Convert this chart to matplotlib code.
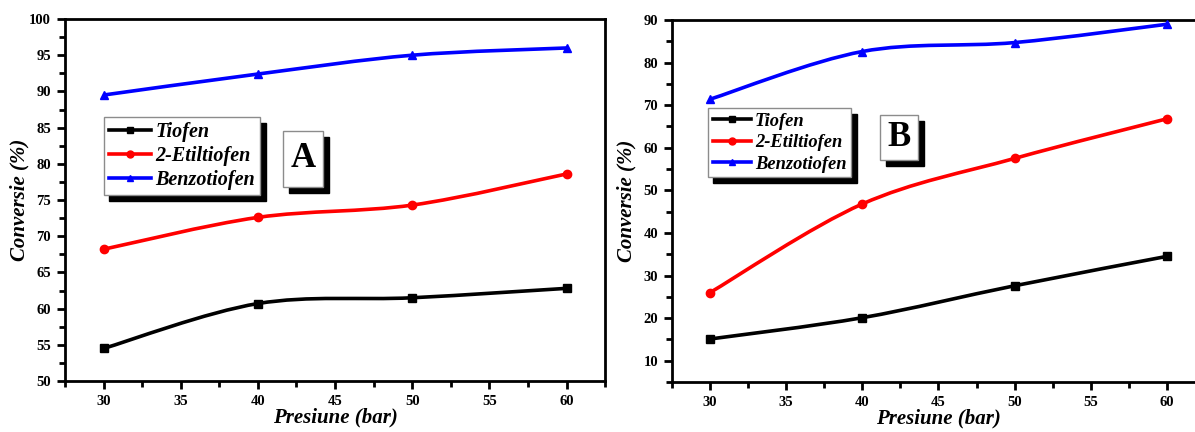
import numpy as np
import matplotlib.pyplot as plt
from matplotlib.path import Path
from matplotlib.patches import PathPatch, Rectangle
from matplotlib.ticker import MultipleLocator
import matplotlib.transforms as mtransforms

plt.rcParams['font.family'] = ['Liberation Serif', 'DejaVu Serif']
plt.rcParams['font.weight'] = 'bold'

# Date
presiune = [30, 40, 50, 60]
serii = ['Tiofen', '2-Etiltiofen', 'Benzotiofen']

tiofen_A = [54.5, 60.7, 61.5, 62.8]
etil_A = [68.2, 72.6, 74.3, 78.6]
benzo_A = [89.5, 92.4, 95.0, 96.0]

tiofen_B = [15.1, 20.1, 27.6, 34.5]
etil_B = [26.0, 46.8, 57.5, 66.8]
benzo_B = [71.4, 82.6, 84.7, 89.0]

culori = ['black', 'red', 'blue']
markere = ['s', 'o', '^']


def curba(ax, x, y, color):
    # curba neteda (Bezier) care trece prin puncte
    p = np.column_stack([x, y]).astype(float)
    verts = [p[0]]
    codes = [Path.MOVETO]
    n = len(p)
    for i in range(n - 1):
        p0 = p[max(i - 1, 0)]
        p3 = p[min(i + 2, n - 1)]
        c1 = p[i] + (p[i + 1] - p0) / 6
        c2 = p[i + 1] - (p3 - p[i]) / 6
        verts += [c1, c2, p[i + 1]]
        codes += [Path.CURVE4] * 3
    ax.add_patch(PathPatch(Path(verts, codes), facecolor='none',
                           edgecolor=color, lw=2.6, zorder=3))


def panou(ax, date, ylim, ymaj, litera, leg_pos, leg_size, leg_sp, box):
    for vals, nume, c, m in zip(date, serii, culori, markere):
        curba(ax, presiune, vals, c)
        ax.plot(presiune, vals, ls='none', marker=m, color=c, ms=6, zorder=4)
        ax.plot([], [], color=c, marker=m, ms=5, lw=2.6, label=nume)

    ax.set_xlim(27.5, 62.5)
    ax.set_ylim(*ylim)
    ax.xaxis.set_major_locator(MultipleLocator(5))
    ax.xaxis.set_minor_locator(MultipleLocator(2.5))
    ax.yaxis.set_major_locator(MultipleLocator(ymaj))
    ax.yaxis.set_minor_locator(MultipleLocator(ymaj / 2))
    ax.tick_params(which='major', direction='out', length=6, width=2,
                   labelsize=10.5, pad=4)
    ax.tick_params(which='minor', direction='out', length=4, width=2)
    for s in ax.spines.values():
        s.set_linewidth(2)

    ax.set_xlabel('Presiune (bar)', fontsize=15, fontstyle='italic',
                  fontweight='bold', labelpad=0)
    ax.set_ylabel('Conversie (%)', fontsize=15, fontstyle='italic',
                  fontweight='bold')
    ax.yaxis.set_label_coords(-0.066, 0.5)

    leg = ax.legend(loc='upper left', bbox_to_anchor=leg_pos,
                    borderaxespad=0, fancybox=False, edgecolor='0.55',
                    framealpha=1, handlelength=2.1, handletextpad=0.2,
                    labelspacing=leg_sp, borderpad=0.25,
                    prop={'size': leg_size, 'style': 'italic',
                          'weight': 'bold'},
                    shadow={'ox': 4, 'oy': -4, 'color': 'black', 'alpha': 1})
    leg.set_zorder(6)

    # caseta cu litera, cu umbra
    x0, y0, x1, y1 = box
    sh = mtransforms.offset_copy(ax.transAxes, fig=ax.figure, x=4.5, y=-4.5,
                                 units='points')
    ax.add_patch(Rectangle((x0, y0), x1 - x0, y1 - y0, transform=sh,
                           fc='black', ec='black', zorder=6))
    ax.add_patch(Rectangle((x0, y0), x1 - x0, y1 - y0,
                           transform=ax.transAxes, fc='white', ec='0.55',
                           lw=1, zorder=7))
    ax.text((x0 + x1) / 2, (y0 + y1) / 2, litera, transform=ax.transAxes,
            ha='center', va='center', fontsize=25, fontweight='bold',
            zorder=8)


fig = plt.figure(figsize=(11.95, 4.32), dpi=100)
axA = fig.add_axes([0.0544, 0.118, 0.452, 0.838])
axB = fig.add_axes([0.5623, 0.1157, 0.446, 0.838])

panou(axA, [tiofen_A, etil_A, benzo_A], (50, 100), 5, 'A',
      (0.072, 0.729), 14.5, 0.2, (0.404, 0.536, 0.478, 0.691))
panou(axB, [tiofen_B, etil_B, benzo_B], (5, 90), 10, 'B',
      (0.0675, 0.757), 13.3, 0.25, (0.390, 0.613, 0.4615, 0.7376))

fig.savefig('out.png', dpi=100)
